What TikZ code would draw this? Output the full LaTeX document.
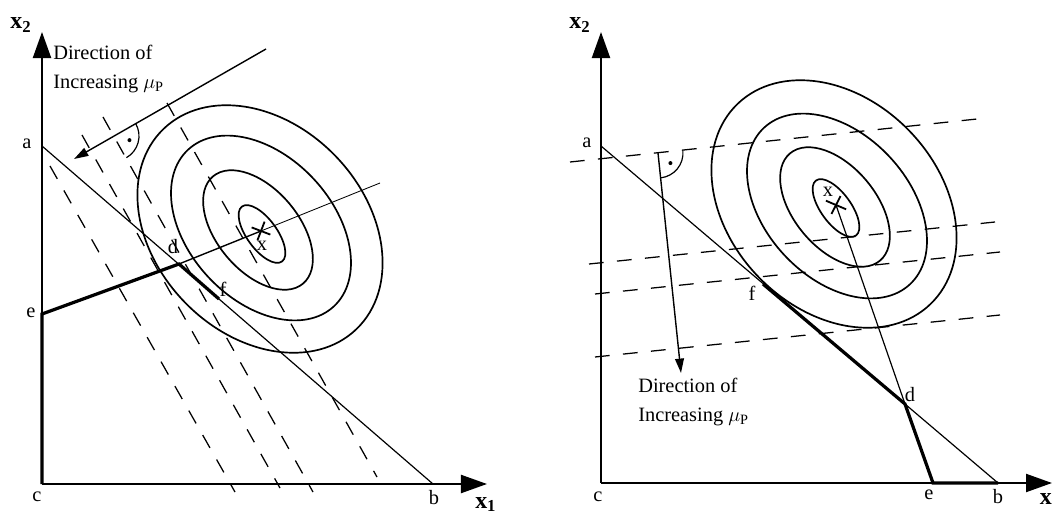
\documentclass[tikz,border=0pt]{standalone}
\usepackage{fontspec}
\setmainfont{Liberation Serif}
\usetikzlibrary{arrows.meta}

\begin{document}
\begin{tikzpicture}[
    x=0.025cm, y=0.025cm,
    lbl/.style={font=\fontsize{14.5}{17}\selectfont, inner sep=0pt},
    axlbl/.style={font=\fontsize{17}{20}\selectfont\bfseries, inner sep=0pt},
    axis/.style={line width=1.5pt, -{Triangle[length=0.65cm, width=0.45cm]}},
    border/.style={line width=0.85pt},
    feasible/.style={line width=2.3pt},
    contour/.style={line width=1.2pt},
    level/.style={line width=0.9pt, dash pattern=on 10.5pt off 9.5pt},
    dirarrow/.style={line width=1pt, -{Triangle[length=0.36cm, width=0.22cm]}},
    dirtext/.style={font=\fontsize{14.5}{20.6}\selectfont, align=left, inner sep=0pt, anchor=north west},
  ]
  \useasboundingbox (0,0) rectangle (1052,514);

  % left panel
  \coordinate (cL) at (42,30);
  \coordinate (yL) at (42,482);
  \coordinate (xL) at (487,30);
  \coordinate (aL) at (42,368);
  \coordinate (bL) at (433,30);
  \coordinate (eL) at (42,200);
  \coordinate (dL) at (179,250);
  \coordinate (fL) at (219,215);
  \coordinate (mL) at (261,283);
  \coordinate (tL) at (380,331);
  \coordinate (pL) at (266,465);
  \coordinate (qL) at (74,355);
  \coordinate (oL) at (114,378);

  \draw[level] (50,348) -- (235,22);
  \draw[level] (82,379) -- (280,26);
  \draw[level] (103,397) -- (313,22);
  \draw[level] (167,411) -- (377,37);

  \draw[contour, rotate around={-54:(262,280)}] (262,280) ellipse[x radius=34, y radius=15];
  \draw[contour, rotate around={-50:(258,284)}] (258,284) ellipse[x radius=70, y radius=41];
  \draw[contour, rotate around={-47:(261,286)}] (261,286) ellipse[x radius=107, y radius=72];
  \draw[contour, rotate around={-46:(260,285)}] (260,285) ellipse[x radius=139, y radius=105];

  \draw[axis] (cL) -- (yL);
  \draw[axis] (cL) -- (xL);
  \draw[border] (aL) -- (bL);
  \draw[feasible] (cL) -- (eL) -- (dL) -- (fL);
  \draw[line width=1pt] (dL) -- (mL);
  \draw[line width=0.6pt] (mL) -- (tL);
  \draw[line width=1.3pt] (mL) ++(-21:10) -- ++(159:20);
  \draw[line width=1.3pt] (mL) ++(69:10) -- ++(249:20);

  \draw[dirarrow] (pL) -- (qL);
  \draw[border] (oL) ++(29.8:25) arc[start angle=29.8, end angle=-60.2, radius=25];
  \fill (oL) ++(-15:16) circle[radius=2];

  \node[axlbl] (x2L) at (21,489) {x\textsubscript{2}};
  \node[axlbl, anchor=north west] (x1L) at (475,17) {x\textsubscript{1}};
  \node[lbl] (laL) at (27,370) {a};
  \node[lbl] (lbL) at (434,16) {b};
  \node[lbl] (lcL) at (37,17) {c};
  \node[lbl] (ldL) at (173,267) {d};
  \node[lbl] (leL) at (31,201) {e};
  \node[lbl] (lfL) at (223,225) {f};
  \node[lbl] (lxL) at (262,268) {x};
  \node[dirtext] (dirL) at (53,469) {Direction of\\Increasing $\mu_{\mathrm{P}}$};

  % right panel
  \coordinate (cR) at (601,31);
  \coordinate (yR) at (601,482);
  \coordinate (xR) at (1052,31);
  \coordinate (aR) at (601,368);
  \coordinate (bR) at (998,31);
  \coordinate (eR) at (933,31);
  \coordinate (dR) at (905,110);
  \coordinate (fR) at (763,230);
  \coordinate (mR) at (836,309);
  \coordinate (pR) at (658,361);
  \coordinate (qR) at (681,141);

  \draw[level] (570,352) -- (977,395);
  \draw[level] (589,250) -- (995,292);
  \draw[level] (595,220) -- (1000,262);
  \draw[level] (595,157) -- (1000,199);

  \draw[contour, rotate around={-54:(836,306)}] (836,306) ellipse[x radius=34, y radius=15];
  \draw[contour, rotate around={-50:(835,307)}] (835,307) ellipse[x radius=70, y radius=41];
  \draw[contour, rotate around={-47:(837,308)}] (837,308) ellipse[x radius=107, y radius=72];
  \draw[contour, rotate around={-46:(834,310)}] (834,310) ellipse[x radius=139, y radius=105];

  \draw[axis] (cR) -- (yR);
  \draw[axis] (cR) -- (xR);
  \draw[border] (aR) -- (bR);
  \draw[feasible] (fR) -- (dR) -- (eR) -- (bR);
  \draw[border] (mR) -- (dR);
  \draw[line width=1.3pt] (mR) ++(-23:11) -- ++(157:22);
  \draw[line width=1.3pt] (mR) ++(63:10) -- ++(243:20);

  \draw[dirarrow] (pR) -- (qR);
  \draw[border] (pR) ++(6:25) arc[start angle=6, end angle=-84, radius=25];
  \fill (pR) ++(-39:16) circle[radius=2];

  \node[axlbl] (x2R) at (580,489) {x\textsubscript{2}};
  \node[axlbl, anchor=north east] (x1R) at (1052,21) {x};
  \node[lbl] (laR) at (587,371) {a};
  \node[lbl] (lbR) at (998,17) {b};
  \node[lbl] (lcR) at (598,17) {c};
  \node[lbl] (ldR) at (910,119) {d};
  \node[lbl] (leR) at (929,19) {e};
  \node[lbl] (lfR) at (752,221) {f};
  \node[lbl] (lxR) at (828,322) {x};
  \node[dirtext] (dirR) at (638,136) {Direction of\\Increasing $\mu_{\mathrm{P}}$};
\end{tikzpicture}
\end{document}
